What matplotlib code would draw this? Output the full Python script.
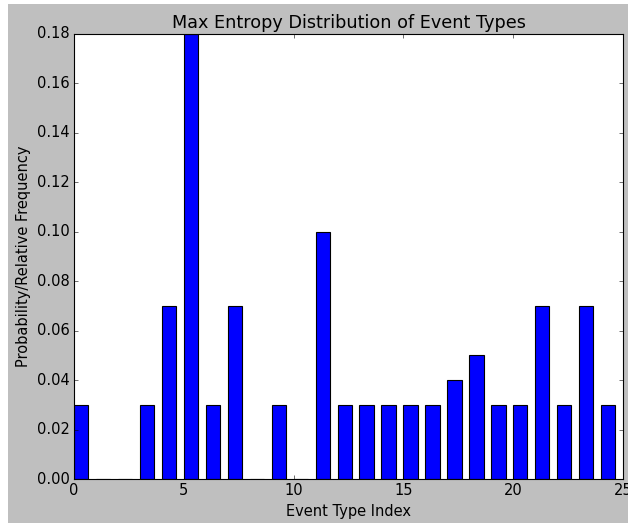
import matplotlib
matplotlib.use("Agg")
import matplotlib.pyplot as plt
from matplotlib.patches import Rectangle

plt.style.use('classic')
plt.rcParams['font.size'] = 13.2

# probability for each event type
eventIndex = list(range(25))
probs = [0.03, 0.0, 0.0, 0.03, 0.07, 0.18, 0.03, 0.07, 0.0, 0.03,
         0.0, 0.10, 0.03, 0.03, 0.03, 0.03, 0.03, 0.04, 0.05, 0.03,
         0.03, 0.07, 0.03, 0.07, 0.03]

fig = plt.figure(figsize=(628/80.0, 523/80.0), dpi=80, facecolor='white')
fig.patches.append(Rectangle((8/628.0, 0), 1, 1 - 4/523.0, transform=fig.transFigure,
                             facecolor='0.75', edgecolor='none', zorder=-10))
ax = fig.add_axes([74/628.0, 1 - 479/523.0, 549/628.0, 445/523.0])

ax.bar(eventIndex, probs, width=0.65, align='edge', color='blue', edgecolor='black')
ax.set_xlim(0, 25)
ax.set_ylim(0, 0.18)
ax.set_title('Max Entropy Distribution of Event Types')
ax.set_xlabel('Event Type Index')
ax.set_ylabel('Probability/Relative Frequency')

fig.savefig('out.png', dpi=80, facecolor=fig.get_facecolor())
